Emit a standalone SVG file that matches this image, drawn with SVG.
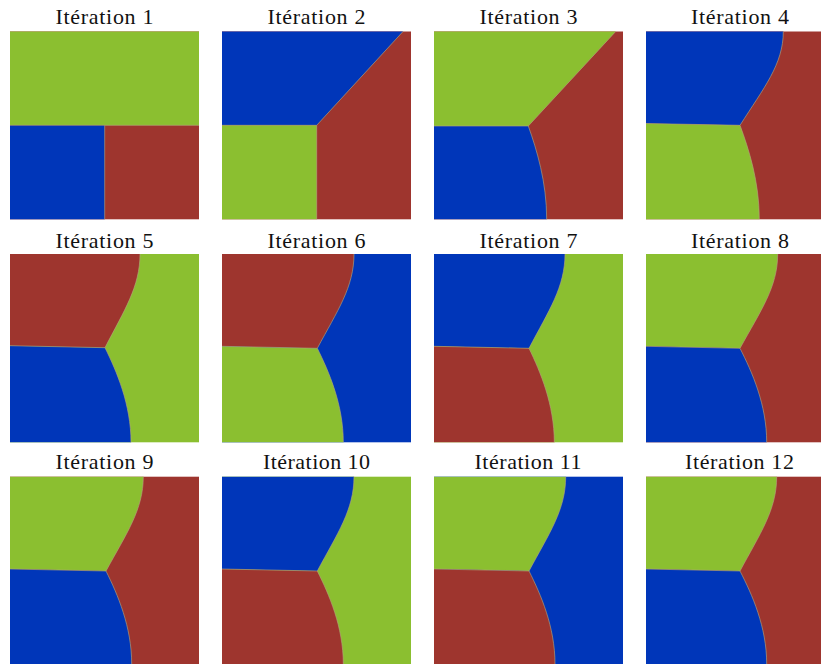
<svg xmlns="http://www.w3.org/2000/svg" width="821" height="664" viewBox="0 0 821 664">
<style>
.t{font-family:"Liberation Serif","DejaVu Serif",serif;font-size:22px;fill:#111;text-anchor:middle}
.g{fill:#8bbf30}
.b{fill:#0036b9}
.r{fill:#9e352e}
.e{fill:none;stroke:#b3a57a;stroke-width:0.9;stroke-opacity:0.7}
</style>
<rect width="821" height="664" fill="#ffffff"/>
<g id="panel1">
<text class="t" x="104.5" y="24.3" textLength="98" lengthAdjust="spacing">Itération 1</text>
<rect class="r" x="10" y="31.5" width="189" height="187.8"/>
<rect class="g" x="10" y="31.5" width="189" height="93.8"/>
<rect class="b" x="10" y="125.3" width="94.7" height="94"/>
<path class="e" d="M10,125.3 H199 M104.7,125.3 V219.3"/>
</g>
<g id="panel2">
<text class="t" x="316.5" y="24.3" textLength="98" lengthAdjust="spacing">Itération 2</text>
<rect class="r" x="222" y="31.5" width="189" height="187.8"/>
<path class="b" d="M222,31.5 L403,31.5 L316.7,125.3 L222,125.3 Z"/>
<path class="g" d="M222,125.3 L316.7,125.3 L316.7,219.3 L222,219.3 Z"/>
<path class="e" d="M222,125.3 L316.7,125.3 L403,31.5 M316.7,125.3 V219.3"/>
</g>
<g id="panel3">
<text class="t" x="528.5" y="24.3" textLength="98" lengthAdjust="spacing">Itération 3</text>
<rect class="r" x="434" y="31.5" width="189" height="187.8"/>
<path class="g" d="M434,31.5 L615.7,31.5 L528.3,126 L434,126 Z"/>
<path class="b" d="M434,126 L528.3,126 C536.6,149.3 546.7,182 546.7,219.3 L434,219.3 Z"/>
<path class="e" d="M434,126 L528.3,126 L615.7,31.5 M528.3,126 C536.6,149.3 546.7,182 546.7,219.3"/>
</g>
<g id="panel4">
<text class="t" x="740" y="24.3" textLength="98" lengthAdjust="spacing">Itération 4</text>
<rect class="r" x="646" y="31.5" width="189" height="187.8"/>
<path class="b" d="M646,31.5 L783.3,31.5 C783.3,64.3 763.8,87.8 740,125.3 L646,123.5 Z"/>
<path class="g" d="M646,123.5 L740,125.3 C748.7,148.8 759.3,181.7 759.3,219.3 L646,219.3 Z"/>
<path class="e" d="M646,123.5 L740,125.3 M783.3,31.5 C783.3,64.3 763.8,87.8 740,125.3 C748.7,148.8 759.3,181.7 759.3,219.3"/>
</g>
<g id="panel5">
<text class="t" x="104.5" y="247.7" textLength="98" lengthAdjust="spacing">Itération 5</text>
<rect class="g" x="10" y="254" width="189" height="188.3"/>
<path class="r" d="M10,254 L140,254 C140,286.8 124.3,310.2 105,347.7 L10,345.7 Z"/>
<path class="b" d="M10,345.7 L105,347.7 C116.7,371.4 131,404.5 131,442.3 L10,442.3 Z"/>
<path class="e" d="M10,345.7 L105,347.7 M140,254 C140,286.8 124.3,310.2 105,347.7 C116.7,371.4 131,404.5 131,442.3"/>
</g>
<g id="panel6">
<text class="t" x="316.5" y="247.7" textLength="98" lengthAdjust="spacing">Itération 6</text>
<rect class="b" x="222" y="254" width="189" height="188.3"/>
<path class="r" d="M222,254 L354,254 C354,287 337.5,310.6 317.3,348.3 L222,346.3 Z"/>
<path class="g" d="M222,346.3 L317.3,348.3 C329,371.8 343.3,404.7 343.3,442.3 L222,442.3 Z"/>
<path class="e" d="M222,346.3 L317.3,348.3 M354,254 C354,287 337.5,310.6 317.3,348.3 C329,371.8 343.3,404.7 343.3,442.3"/>
</g>
<g id="panel7">
<text class="t" x="528.5" y="247.7" textLength="98" lengthAdjust="spacing">Itération 7</text>
<rect class="g" x="434" y="254" width="189" height="188.3"/>
<path class="b" d="M434,254 L565,254 C565,287 548.8,310.6 529,348.3 L434,346.3 Z"/>
<path class="r" d="M434,346.3 L529,348.3 C540.4,371.8 554.3,404.7 554.3,442.3 L434,442.3 Z"/>
<path class="e" d="M434,346.3 L529,348.3 M565,254 C565,287 548.8,310.6 529,348.3 C540.4,371.8 554.3,404.7 554.3,442.3"/>
</g>
<g id="panel8">
<text class="t" x="740" y="247.7" textLength="98" lengthAdjust="spacing">Itération 8</text>
<rect class="r" x="646" y="254" width="189" height="188.3"/>
<path class="g" d="M646,254 L777.7,254 C777.7,287 760.7,310.6 740,348.3 L646,346.3 Z"/>
<path class="b" d="M646,346.3 L740,348.3 C752,371.8 766.7,404.7 766.7,442.3 L646,442.3 Z"/>
<path class="e" d="M646,346.3 L740,348.3 M777.7,254 C777.7,287 760.7,310.6 740,348.3 C752,371.8 766.7,404.7 766.7,442.3"/>
</g>
<g id="panel9">
<text class="t" x="104.5" y="469.3" textLength="98" lengthAdjust="spacing">Itération 9</text>
<rect class="r" x="10" y="476.7" width="189" height="187.3"/>
<path class="g" d="M10,476.7 L143.3,476.7 C143.3,509.7 126.5,533.3 106,571 L10,569 Z"/>
<path class="b" d="M10,569 L106,571 C117.6,594.3 131.7,626.8 131.7,664 L10,664 Z"/>
<path class="e" d="M10,569 L106,571 M143.3,476.7 C143.3,509.7 126.5,533.3 106,571 C117.6,594.3 131.7,626.8 131.7,664"/>
</g>
<g id="panel10">
<text class="t" x="316.5" y="469.3" textLength="107" lengthAdjust="spacing">Itération 10</text>
<rect class="g" x="222" y="476.7" width="189" height="187.3"/>
<path class="b" d="M222,476.7 L354,476.7 C354,509.7 337.5,533.3 317.3,571 L222,569 Z"/>
<path class="r" d="M222,569 L317.3,571 C329,594.3 343.3,626.8 343.3,664 L222,664 Z"/>
<path class="e" d="M222,569 L317.3,571 M354,476.7 C354,509.7 337.5,533.3 317.3,571 C329,594.3 343.3,626.8 343.3,664"/>
</g>
<g id="panel11">
<text class="t" x="528" y="469.3" textLength="107" lengthAdjust="spacing">Itération 11</text>
<rect class="b" x="434" y="476.7" width="189" height="187.3"/>
<path class="g" d="M434,476.7 L565.7,476.7 C565.7,509.7 549.2,533.3 529,571 L434,569 Z"/>
<path class="r" d="M434,569 L529,571 C540.7,594.3 555,626.8 555,664 L434,664 Z"/>
<path class="e" d="M434,569 L529,571 M565.7,476.7 C565.7,509.7 549.2,533.3 529,571 C540.7,594.3 555,626.8 555,664"/>
</g>
<g id="panel12">
<text class="t" x="739.5" y="469.3" textLength="109" lengthAdjust="spacing">Itération 12</text>
<rect class="r" x="646" y="476.7" width="189" height="187.3"/>
<path class="g" d="M646,476.7 L776.7,476.7 C776.7,509.7 760.2,533.3 740,571 L646,569 Z"/>
<path class="b" d="M646,569 L740,571 C752,594.3 766.7,626.8 766.7,664 L646,664 Z"/>
<path class="e" d="M646,569 L740,571 M776.7,476.7 C776.7,509.7 760.2,533.3 740,571 C752,594.3 766.7,626.8 766.7,664"/>
</g>
<g id="connectors"></g>
</svg>
